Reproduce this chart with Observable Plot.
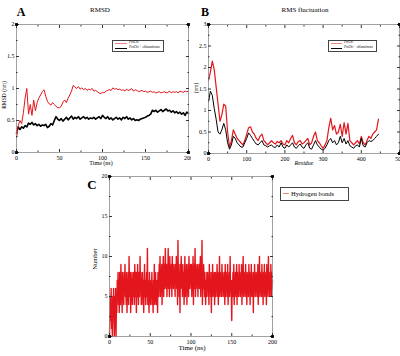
<!DOCTYPE html>
<html><head><meta charset="utf-8">
<script src="https://cdn.jsdelivr.net/npm/d3@7"></script>
<script src="https://cdn.jsdelivr.net/npm/@observablehq/plot@0.6"></script>
<style>
body{margin:0;background:#fff;}
#wrap{position:relative;width:400px;height:356px;overflow:hidden;font-family:"Liberation Serif","DejaVu Serif",serif;background:#fff;}
.p{position:absolute;}
.p svg{max-width:none !important;}
.t{position:absolute;white-space:nowrap;color:#000;line-height:1;}
.lg{position:absolute;background:#fff;border:0.6px solid #444;}
</style></head><body><div id="wrap"></div>
<script>
// ---------- Panel A: RMSD (nm) vs time (ns), 2 ns sampling ----------
const rmsdTimeStep = 2;
const rmsdFree = [0.22,0.42,0.5,0.45,0.62,0.85,1.0,0.6,0.75,0.58,0.82,0.65,0.78,0.85,0.9,0.95,0.98,0.88,0.8,0.76,
0.74,0.78,0.75,0.72,0.7,0.7,0.72,0.79,0.82,0.78,0.85,0.9,0.96,1.05,1.02,1.0,1.03,0.99,1.01,0.98,
1.0,0.97,0.99,0.98,1.0,0.96,0.97,0.95,0.93,0.92,0.94,0.93,0.96,0.97,0.98,0.97,1.01,0.99,1.0,0.98,
0.99,0.97,0.98,0.96,0.99,0.97,0.98,1.0,0.96,0.98,0.97,0.95,0.96,0.97,0.95,0.96,0.94,0.95,0.96,0.94,
0.95,0.93,0.94,0.95,0.93,0.94,0.95,0.93,0.94,0.96,0.93,0.95,0.94,0.95,0.93,0.96,0.95,0.94,0.96,0.95,0.96];
const rmsdComplex = [0.3,0.4,0.36,0.4,0.38,0.42,0.4,0.46,0.44,0.47,0.43,0.45,0.42,0.44,0.41,0.43,0.42,0.44,0.39,0.41,
0.45,0.43,0.5,0.56,0.52,0.5,0.53,0.49,0.52,0.55,0.51,0.54,0.57,0.52,0.55,0.53,0.56,0.52,0.54,0.56,
0.53,0.55,0.52,0.54,0.53,0.55,0.52,0.54,0.56,0.53,0.58,0.55,0.53,0.56,0.52,0.54,0.51,0.53,0.55,0.52,
0.54,0.51,0.55,0.53,0.56,0.52,0.54,0.51,0.53,0.5,0.51,0.5,0.52,0.53,0.54,0.55,0.57,0.58,0.6,0.66,
0.64,0.66,0.63,0.65,0.67,0.64,0.66,0.68,0.65,0.66,0.63,0.65,0.62,0.64,0.61,0.63,0.6,0.62,0.58,0.63,0.61];

// ---------- Panel B: RMSF (nm) vs residue, 5-residue sampling ----------
const rmsfStep = 5;
const rmsfFree = [1.7,1.9,2.15,1.95,1.55,1.15,0.75,0.9,1.15,1.1,0.5,0.15,0.3,0.55,0.45,0.35,0.3,0.25,0.2,0.3,
0.45,0.6,0.62,0.5,0.45,0.35,0.3,0.4,0.45,0.3,0.25,0.2,0.25,0.3,0.25,0.22,0.28,0.25,0.3,0.22,
0.2,0.3,0.25,0.35,0.42,0.25,0.2,0.28,0.3,0.22,0.25,0.3,0.35,0.2,0.25,0.4,0.5,0.3,0.25,0.18,
0.12,0.2,0.3,0.6,0.82,0.55,0.65,0.45,0.5,0.68,0.4,0.72,0.45,0.7,0.3,0.25,0.2,0.25,0.3,0.22,
0.4,0.25,0.2,0.3,0.4,0.35,0.45,0.5,0.55,0.8];
const rmsfComplex = [1.2,1.45,1.35,1.05,0.8,0.5,0.45,0.55,0.7,0.55,0.25,0.1,0.2,0.4,0.35,0.25,0.2,0.15,0.15,0.25,
0.35,0.48,0.42,0.35,0.28,0.22,0.2,0.25,0.3,0.2,0.18,0.15,0.18,0.2,0.15,0.14,0.2,0.15,0.25,0.15,
0.12,0.2,0.15,0.2,0.25,0.15,0.12,0.18,0.22,0.15,0.12,0.2,0.25,0.12,0.1,0.2,0.3,0.2,0.15,0.1,
0.08,0.12,0.2,0.3,0.35,0.25,0.3,0.2,0.25,0.4,0.25,0.35,0.22,0.3,0.18,0.15,0.12,0.18,0.2,0.15,
0.35,0.18,0.15,0.25,0.3,0.28,0.3,0.35,0.4,0.45];

// ---------- Panel C: hydrogen bonds vs time, 0.5 ns sampling ----------
const hbStep = 0.5;
const hbonds = [
0,3,5,2,6,1,4,0,5,3,6,2,0,5,1,6,0,4,3,7,
5,8,4,7,3,8,6,4,9,5,7,3,8,5,6,4,8,6,9,5,
6,4,8,3,7,5,8,4,10,6,5,8,3,7,6,8,4,7,5,8,
7,4,9,5,8,6,3,8,5,9,6,4,8,7,5,10,6,8,4,7,
5,8,4,7,3,6,9,5,7,4,6,8,5,11,4,7,6,3,8,5,
6,4,7,5,8,4,6,3,7,5,9,4,6,8,5,4,7,6,3,8,
7,5,9,6,10,5,8,6,9,4,8,7,10,5,9,6,8,11,7,6,
9,5,8,7,11,6,9,5,10,7,8,6,9,5,10,7,8,6,9,7,
8,5,9,7,10,6,8,4,12,7,9,5,8,3,9,6,10,7,8,5,
9,6,8,4,7,10,5,8,6,9,4,8,7,9,5,10,6,8,7,9,
6,9,5,8,7,10,4,9,6,8,11,5,9,7,8,6,9,5,8,7,
9,6,8,10,5,9,7,12,4,8,6,9,7,5,8,6,4,7,5,8,
6,8,5,7,4,9,6,8,5,7,3,8,6,9,5,7,6,8,4,7,
8,5,7,6,9,5,8,4,7,6,10,5,8,6,7,5,9,6,8,5,
7,6,8,4,9,5,7,6,8,5,9,4,7,6,8,5,10,6,7,5,
2,7,6,8,5,9,4,7,6,8,5,7,9,4,8,6,7,5,9,6,
8,5,7,6,9,4,8,6,10,5,7,6,8,5,9,6,7,4,8,6,
7,5,9,6,8,4,7,6,9,5,8,6,7,3,8,5,9,6,7,5,
8,6,7,5,9,4,8,6,10,5,7,6,8,5,9,6,7,4,8,6,
9,5,7,6,8,4,9,6,7,5,10,6,8,5,7,6,9,5,8,6,7];

// tick values
const ticksA_x = [0,50,100,150,200], minorA_x = [25,75,125,175];
const ticksA_y = [0,0.5,1,1.5,2], minorA_y = [0.25,0.75,1.25,1.75];
const ticksB_x = [0,100,200,300,400,500], minorB_x = [50,150,250,350,450];
const ticksB_y = [0,0.5,1,1.5,2,2.5,3], minorB_y = [0.25,0.75,1.25,1.75,2.25,2.75];
const ticksC_x = [0,50,100,150,200], minorC_x = [25,75,125,175];
const ticksC_y = [0,5,10,15,20], minorC_y = [2.5,7.5,12.5,17.5];

const RED = "#e3161d";
const wrap = document.getElementById("wrap");
const fmt = d => String(d);

function series(values, step, key) {
  return values.map((v, i) => ({x: i * step, y: v, s: key}));
}

function panel(o) {
  const corners = [
    {x: o.xd[0], y: o.yd[0]}, {x: o.xd[1], y: o.yd[0]},
    {x: o.xd[0], y: o.yd[1]}, {x: o.xd[1], y: o.yd[1]}
  ];
  const svg = Plot.plot({
    width: o.w, height: o.h,
    marginLeft: o.ml, marginRight: o.mr, marginTop: o.mt, marginBottom: o.mb,
    style: {background: "transparent", fontFamily: "Liberation Serif, serif", fontSize: "6px", overflow: "visible", maxWidth: "none"},
    x: {domain: o.xd, axis: null},
    y: {domain: o.yd, axis: null},
    marks: [
      ...o.marks,
      Plot.frame({stroke: "#8a8a8a", strokeWidth: 0.8}),
      Plot.axisX({ticks: o.tx, tickSize: 0, tickPadding: 3, fontSize: 6, tickFormat: fmt, label: null}),
      Plot.axisX({ticks: o.tx, tickSize: -3, tickFormat: () => "", label: null, stroke: "#333"}),
      Plot.axisX({ticks: o.mx, tickSize: -1.5, tickFormat: () => "", label: null, stroke: "#333"}),
      Plot.axisX({anchor: "top", ticks: o.tx, tickSize: -3, tickFormat: () => "", label: null, stroke: "#333"}),
      Plot.axisX({anchor: "top", ticks: o.mx, tickSize: -1.5, tickFormat: () => "", label: null, stroke: "#333"}),
      Plot.axisY({ticks: o.ty, tickSize: 0, tickPadding: 2, fontSize: 6, tickFormat: fmt, label: null}),
      Plot.axisY({ticks: o.ty, tickSize: -3, tickFormat: () => "", label: null, stroke: "#333"}),
      Plot.axisY({ticks: o.my, tickSize: -1.5, tickFormat: () => "", label: null, stroke: "#333"}),
      Plot.axisY({anchor: "right", ticks: o.ty, tickSize: -3, tickFormat: () => "", label: null, stroke: "#333"}),
      Plot.axisY({anchor: "right", ticks: o.my, tickSize: -1.5, tickFormat: () => "", label: null, stroke: "#333"}),
      Plot.dot(corners, {x: "x", y: "y", symbol: "square", r: 1.6, fill: "#000"})
    ]
  });
  const d = document.createElement("div");
  d.className = "p";
  d.style.left = o.left + "px"; d.style.top = o.top + "px";
  d.style.width = (o.clipW || o.w) + "px"; d.style.height = o.h + "px";
  d.style.overflow = o.clipW ? "hidden" : "visible";
  d.appendChild(svg);
  wrap.appendChild(d);
}

function text(str, x, y, size, opts = {}) {
  const e = document.createElement("div");
  e.className = "t";
  e.textContent = str;
  e.style.fontSize = size + "px";
  if (opts.bold) e.style.fontWeight = "bold";
  if (opts.italic) e.style.fontStyle = "italic";
  e.style.left = x + "px"; e.style.top = y + "px";
  let tr = "translate(-50%,-50%)";
  if (opts.rotate) tr += " rotate(-90deg)";
  e.style.transform = tr;
  wrap.appendChild(e);
  return e;
}

// Panel A
panel({
  left: 0, top: 0, w: 200, h: 175, clipW: 191, ml: 16, mr: 12, mt: 24, mb: 23,
  xd: [0, 200], yd: [0, 2], tx: ticksA_x, mx: minorA_x, ty: ticksA_y, my: minorA_y,
  marks: [
    Plot.line(series(rmsdComplex, rmsdTimeStep, "c"), {x: "x", y: "y", stroke: "#000", strokeWidth: 1.6}),
    Plot.line(series(rmsdFree, rmsdTimeStep, "f"), {x: "x", y: "y", stroke: RED, strokeWidth: 1})
  ]
});
// Panel B
panel({
  left: 192, top: 0, w: 208, h: 175, ml: 16, mr: 1, mt: 24, mb: 22,
  xd: [0, 500], yd: [0, 3], tx: ticksB_x, mx: minorB_x, ty: ticksB_y, my: minorB_y,
  marks: [
    Plot.line(series(rmsfFree, rmsfStep, "f"), {x: "x", y: "y", stroke: RED, strokeWidth: 1.2}),
    Plot.line(series(rmsfComplex, rmsfStep, "c"), {x: "x", y: "y", stroke: "#000", strokeWidth: 1})
  ]
});
// Panel C
panel({
  left: 90, top: 170, w: 190, h: 186, ml: 19, mr: 8, mt: 6, mb: 20,
  xd: [0, 200], yd: [0, 20], tx: ticksC_x, mx: minorC_x, ty: ticksC_y, my: minorC_y,
  marks: [
    Plot.line(series(hbonds, hbStep, "h"), {x: "x", y: "y", stroke: RED, strokeWidth: 1.4})
  ]
});

// Titles and labels
text("A", 21, 12, 12, {bold: true});
text("RMSD", 100, 10, 7);
text("B", 205, 12, 12, {bold: true});
text("RMS fluctuation", 305, 10, 7);
text("C", 92, 184, 13, {bold: true});
text("RMSD (nm)", 5, 95, 5.5, {rotate: true});
text("(nm)", 197, 88, 5.5, {rotate: true});
text("Number", 95, 259, 6.5, {rotate: true});
text("Time (ns)", 101, 163, 6);
text("Residue", 304, 163, 6, {italic: true});
text("Time (ns)", 192, 348, 7);

// Legends
function legend(x, y, w, h, items, size) {
  const b = document.createElement("div");
  b.className = "lg";
  b.style.left = x + "px"; b.style.top = y + "px";
  b.style.width = w + "px"; b.style.height = h + "px";
  wrap.appendChild(b);
  items.forEach((it, i) => {
    const ly = y + (i + 0.5) * h / items.length + 0.5;
    const s = document.createElement("div");
    s.style.position = "absolute";
    s.style.left = (x + 3) + "px"; s.style.top = (ly - 0.4) + "px";
    s.style.width = it.len + "px"; s.style.height = "0.8px";
    s.style.background = it.color;
    wrap.appendChild(s);
    const t = document.createElement("div");
    t.className = "t";
    t.textContent = it.label;
    t.style.fontSize = size + "px";
    t.style.fontStyle = it.italic ? "italic" : "normal";
    t.style.left = (x + 5 + it.len) + "px"; t.style.top = ly + "px";
    t.style.transform = "translateY(-50%)";
    wrap.appendChild(t);
  });
}
legend(112, 40, 50, 10, [
  {label: "ProChi", color: "#f08080", len: 12, italic: true},
  {label: "ProChi + chlanatinone", color: "#000", len: 12, italic: true}
], 3.3);
legend(328, 40, 47, 10, [
  {label: "ProChi", color: "#f08080", len: 11, italic: true},
  {label: "ProChi + chlanatinone", color: "#000", len: 11, italic: true}
], 3.1);
legend(280, 187, 67, 12, [
  {label: "Hydrogen bonds", color: "#e88a8a", len: 6, italic: false}
], 6.5);
</script>
</body></html>
